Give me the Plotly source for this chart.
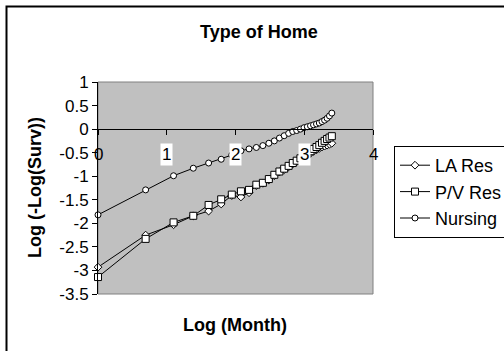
import plotly.graph_objects as go

# ---- data ----
log_month = [0.000, 0.693, 1.099, 1.386, 1.609, 1.792, 1.946, 2.079, 2.197, 2.303,
             2.398, 2.485, 2.565, 2.639, 2.708, 2.773, 2.833, 2.890, 2.944, 2.996,
             3.045, 3.091, 3.135, 3.178, 3.219, 3.258, 3.296, 3.332, 3.367, 3.401]

la_res = [-2.93, -2.25, -2.03, -1.84, -1.74, -1.59, -1.41, -1.44, -1.35, -1.20,
          -1.15, -1.08, -0.99, -0.91, -0.86, -0.80, -0.74, -0.69, -0.64, -0.59,
          -0.55, -0.51, -0.47, -0.44, -0.41, -0.38, -0.36, -0.34, -0.32, -0.30]

pv_res = [-3.14, -2.33, -1.98, -1.84, -1.61, -1.49, -1.39, -1.32, -1.29, -1.18,
          -1.14, -1.06, -0.97, -0.90, -0.84, -0.78, -0.72, -0.67, -0.62, -0.57,
          -0.52, -0.47, -0.42, -0.38, -0.34, -0.29, -0.25, -0.21, -0.18, -0.15]

nursing = [-1.82, -1.29, -0.99, -0.83, -0.72, -0.64, -0.55, -0.46, -0.42, -0.39,
           -0.35, -0.30, -0.25, -0.19, -0.14, -0.09, -0.05, -0.03, 0.00, 0.03,
           0.05, 0.07, 0.09, 0.11, 0.13, 0.16, 0.19, 0.23, 0.28, 0.34]

x_ticks = [0, 1, 2, 3, 4]
x_tick_labels = ["0", "1", "2", "3", "4"]
y_ticks = [1, 0.5, 0, -0.5, -1, -1.5, -2, -2.5, -3, -3.5]
y_tick_labels = ["1", "0.5", "0", "-0.5", "-1", "-1.5", "-2", "-2.5", "-3", "-3.5"]

FONT = "Arial, Liberation Sans, sans-serif"

fig = go.Figure()
series = [
    ("LA Res", la_res, "diamond", 6),
    ("P/V Res", pv_res, "square", 7),
    ("Nursing", nursing, "circle", 6),
]
for name, vals, sym, sz in series:
    fig.add_trace(go.Scatter(
        x=log_month, y=vals, name=name, mode="lines+markers",
        line=dict(color="black", width=1),
        marker=dict(symbol=sym, size=sz, color="white",
                    line=dict(color="black", width=1)),
        cliponaxis=False,
    ))

# x tick labels drawn at the crossing axis, with white boxes
annotations = []
for v, t in zip(x_ticks, x_tick_labels):
    boxed = t in ("1", "2", "3")
    annotations.append(dict(
        x=v, y=-0.545, xref="x", yref="y", text=t, showarrow=False,
        font=dict(family=FONT, size=17, color="black"),
        bgcolor="white" if boxed else "rgba(0,0,0,0)", borderpad=1,
        xanchor="center", yanchor="middle",
    ))
annotations.append(dict(
    x=-0.229, y=0.5, xref="paper", yref="paper", text="<b>Log (-Log(Surv))</b>",
    textangle=-90, showarrow=False, xanchor="center", yanchor="middle",
    font=dict(family=FONT, size=18, color="black"),
))
annotations.append(dict(
    x=0.498, y=-0.146, xref="paper", yref="paper", text="<b>Log (Month)</b>",
    showarrow=False, xanchor="center", yanchor="middle",
    font=dict(family=FONT, size=18, color="black"),
))
annotations.append(dict(
    x=0.585, y=(294 - 32) / 212, xref="paper", yref="paper", text="<b>Type of Home</b>",
    showarrow=False, xanchor="center", yanchor="middle",
    font=dict(family=FONT, size=18, color="black"),
))

shapes = [
    # plot area border
    dict(type="rect", xref="paper", yref="paper", x0=0, y0=0, x1=1, y1=1,
         line=dict(color="#808080", width=1), layer="below"),
    # outer chart border
    dict(type="rect", xref="paper", yref="paper",
         x0=(6.5 - 98) / 275, x1=(515 - 98) / 275,
         y0=(294 - 360) / 212, y1=(294 - 6.5) / 212,
         line=dict(color="black", width=2), layer="below"),
]

fig.update_layout(
    width=504, height=351,
    margin=dict(l=98, r=131, t=82, b=57, autoexpand=False),
    paper_bgcolor="white",
    plot_bgcolor="#C0C0C0",
    showlegend=True,
    legend=dict(
        x=(394 - 98) / 275, y=(294 - 146) / 212, xanchor="left", yanchor="top",
        bgcolor="white", bordercolor="black", borderwidth=1,
        font=dict(family=FONT, size=18, color="black"),
        traceorder="normal", itemwidth=30,
    ),
    annotations=annotations,
    shapes=shapes,
    xaxis=dict(
        range=[0, 4], tickvals=x_ticks, showticklabels=False,
        anchor="free", position=3.5 / 4.5, automargin=False,
        showline=True, linecolor="black", linewidth=1,
        ticks="outside", ticklen=5, tickcolor="black", tickwidth=1,
        showgrid=False, zeroline=False,
    ),
    yaxis=dict(
        range=[-3.5, 1], tickvals=y_ticks, ticktext=y_tick_labels,
        automargin=False,
        showline=True, linecolor="black", linewidth=1,
        ticks="outside", ticklen=5, tickcolor="black", tickwidth=1,
        showgrid=False, zeroline=False,
        tickfont=dict(family=FONT, size=17, color="black"),
    ),
)

fig.write_html(
    "out.html",
    config={"displayModeBar": False},
    post_script="document.body.style.margin='0';document.body.style.overflow='hidden';",
)
